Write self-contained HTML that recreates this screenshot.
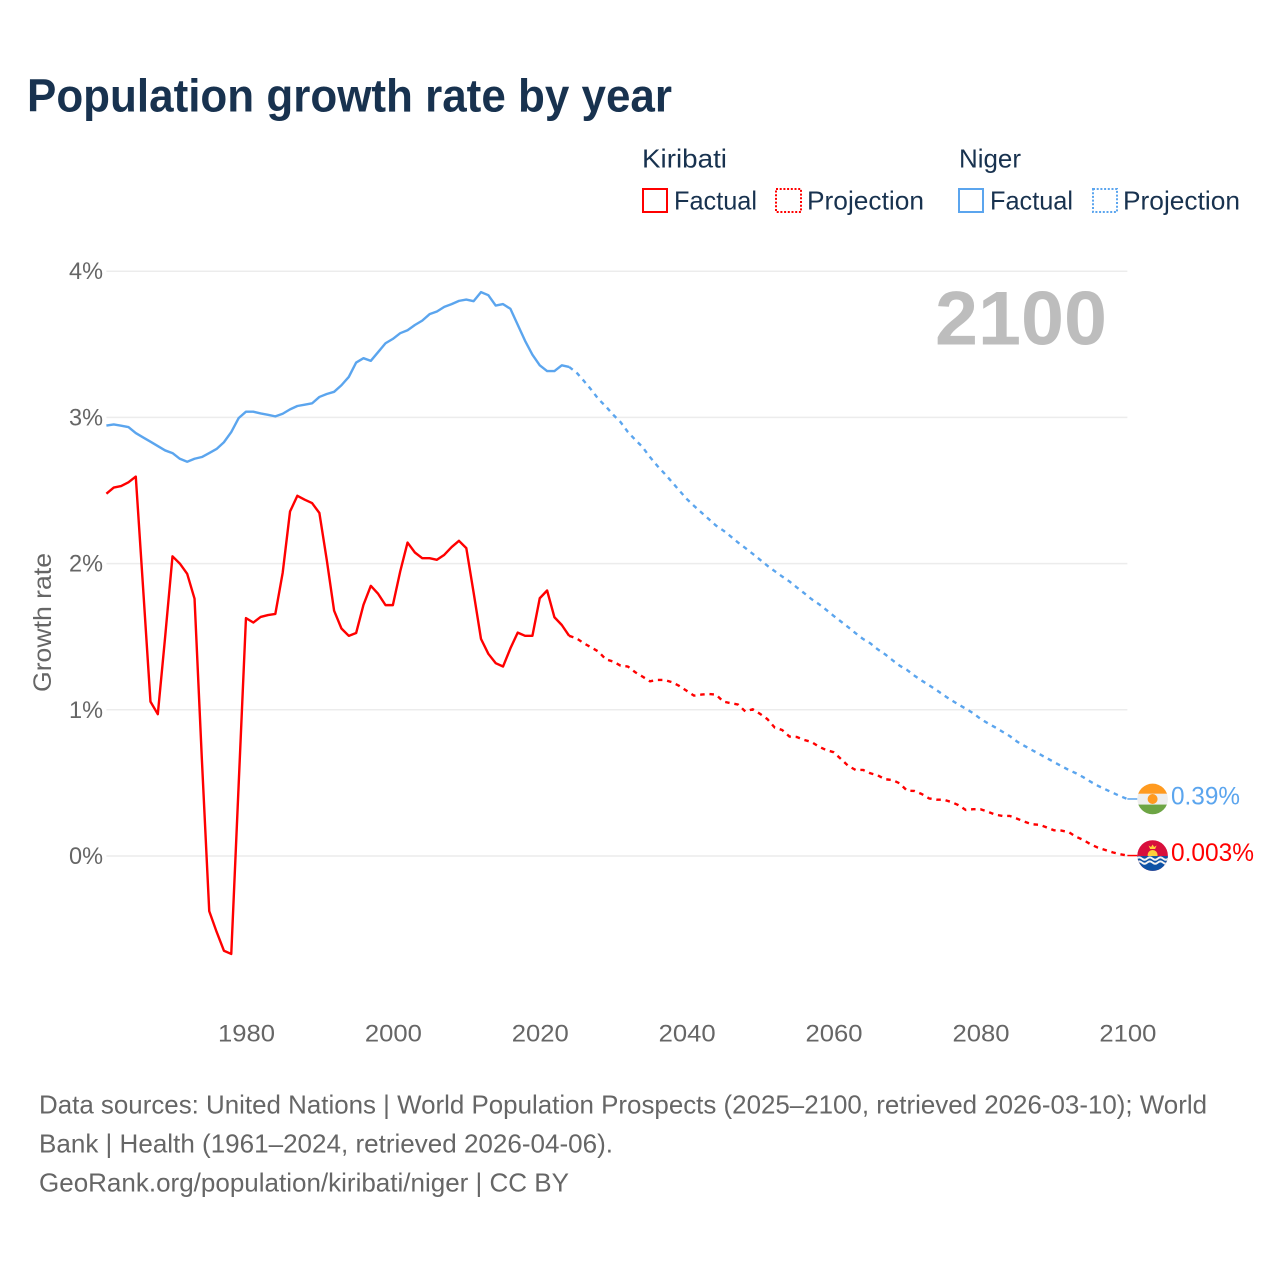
<!DOCTYPE html>
<html lang="en">
<head>
<meta charset="utf-8">
<title>Population growth rate by year</title>
<style>
html,body{margin:0;padding:0;background:#fff;width:1280px;height:1280px;overflow:hidden}
svg{display:block}
text{font-family:"Liberation Sans",sans-serif}
</style>
</head>
<body>
<svg id="chart" xmlns="http://www.w3.org/2000/svg" width="1280" height="1280" viewBox="0 0 1280 1280">
  <rect width="1280" height="1280" fill="#fff"/>
  <text x="27" y="111.5" font-size="46" font-weight="700" fill="#18324f" textLength="645" lengthAdjust="spacingAndGlyphs">Population growth rate by year</text>

  <g font-size="26" fill="#18324f">
    <text x="642" y="167.5" textLength="85" lengthAdjust="spacingAndGlyphs">Kiribati</text>
    <text x="959" y="167.5" textLength="62" lengthAdjust="spacingAndGlyphs">Niger</text>
    <rect x="643" y="189" width="24" height="23" fill="none" stroke="#ff0000" stroke-width="2"/>
    <text x="674" y="209.5" textLength="83" lengthAdjust="spacingAndGlyphs">Factual</text>
    <rect x="776" y="189" width="25" height="23" fill="none" stroke="#ff0000" stroke-width="2" stroke-dasharray="2 1.7"/>
    <text x="807" y="209.5" textLength="117" lengthAdjust="spacingAndGlyphs">Projection</text>
    <rect x="959" y="189" width="24" height="23" fill="none" stroke="#5ba5ee" stroke-width="2"/>
    <text x="990" y="209.5" textLength="83" lengthAdjust="spacingAndGlyphs">Factual</text>
    <rect x="1093" y="189" width="24" height="23" fill="none" stroke="#5ba5ee" stroke-width="2" stroke-dasharray="2 1.7"/>
    <text x="1123" y="209.5" textLength="117" lengthAdjust="spacingAndGlyphs">Projection</text>
  </g>

  <g id="grid"></g>
  <g id="y-ticks" font-size="24" fill="#666"></g>
  <g id="x-ticks" font-size="24" fill="#666"></g>
  <text transform="translate(51,692) rotate(-90)" font-size="25" fill="#666" textLength="139" lengthAdjust="spacingAndGlyphs">Growth rate</text>
  <text x="935" y="344.5" font-size="76" font-weight="700" fill="#bdbdbd" textLength="172" lengthAdjust="spacingAndGlyphs">2100</text>

  <g id="series"></g>

  <g id="flag-niger">
    <clipPath id="clip-niger"><circle cx="0" cy="0" r="15.3"/></clipPath>
    <g clip-path="url(#clip-niger)">
      <rect x="-16" y="-16" width="32" height="32" fill="#eeeeee"/>
      <rect x="-16" y="-16" width="32" height="10.7" fill="#ff9a1f"/>
      <rect x="-16" y="5.6" width="32" height="11" fill="#6da544"/>
      <circle cx="0" cy="0" r="5" fill="#ff9a1f"/>
    </g>
  </g>
  <g id="flag-kiribati">
    <clipPath id="clip-kiribati"><circle cx="0" cy="0" r="15.3"/></clipPath>
    <g clip-path="url(#clip-kiribati)">
      <rect x="-16" y="-16" width="32" height="32" fill="#d80f3c"/>
      <circle cx="0" cy="-0.5" r="5" fill="#ffce3a"/>
      <polygon points="-4,-10 -1.5,-8.5 0,-11 1.5,-8.5 4,-10 2.5,-6.5 -2.5,-6.5" fill="#ffce3a"/>
      <rect x="-16" y="0.5" width="32" height="16" fill="#0d52a5"/>
      <path d="M-16,3 q2.6,-2.4 5.3,0 t5.3,0 t5.3,0 t5.3,0 t5.3,0 t5.3,0" fill="none" stroke="#f2f2f2" stroke-width="2"/>
      <path d="M-16,7 q2.6,-2.4 5.3,0 t5.3,0 t5.3,0 t5.3,0 t5.3,0 t5.3,0" fill="none" stroke="#f2f2f2" stroke-width="2"/>
    </g>
  </g>

  <g id="end-labels" font-size="25"></g>

  <g font-size="26" fill="#666">
    <text x="39" y="1113.5" textLength="1168" lengthAdjust="spacingAndGlyphs">Data sources: United Nations | World Population Prospects (2025–2100, retrieved 2026-03-10); World</text>
    <text x="39" y="1152.5" textLength="574" lengthAdjust="spacingAndGlyphs">Bank | Health (1961–2024, retrieved 2026-04-06).</text>
    <text x="39" y="1191.5" textLength="530" lengthAdjust="spacingAndGlyphs">GeoRank.org/population/kiribati/niger | CC BY</text>
  </g>
</svg>

<script>
const factualStartYear = 1961;
const projectionStartYear = 2024;
const yTickValues = [0, 1, 2, 3, 4];
const xTickYears = [1980, 2000, 2020, 2040, 2060, 2080, 2100];

const kiribatiFactual = [
  2.478, 2.52, 2.53, 2.556, 2.595, 1.83, 1.056, 0.97, 1.5, 2.05,
  2.0, 1.93, 1.76, 0.66, -0.377, -0.518, -0.648, -0.67, 0.48, 1.627,
  1.597, 1.635, 1.648, 1.656, 1.937, 2.356, 2.464, 2.437, 2.414, 2.346,
  2.026, 1.678, 1.556, 1.506, 1.525, 1.718, 1.848, 1.793, 1.716, 1.716,
  1.946, 2.144, 2.076, 2.037, 2.037, 2.026, 2.06, 2.113, 2.156, 2.106,
  1.8, 1.485, 1.383, 1.319, 1.296, 1.42, 1.528, 1.506, 1.506, 1.763,
  1.816, 1.633, 1.58, 1.506
];
const kiribatiProjection = [
  1.506, 1.489, 1.455, 1.427, 1.398, 1.345, 1.33, 1.302, 1.296, 1.257,
  1.227, 1.195, 1.204, 1.204, 1.189, 1.163, 1.13, 1.097, 1.104, 1.108,
  1.104, 1.056, 1.045, 1.036, 0.988, 1.004, 0.972, 0.936, 0.878, 0.862,
  0.817, 0.814, 0.794, 0.78, 0.748, 0.725, 0.71, 0.664, 0.616, 0.589,
  0.589, 0.566, 0.552, 0.525, 0.52, 0.497, 0.447, 0.445, 0.424, 0.394,
  0.385, 0.385, 0.37, 0.348, 0.315, 0.32, 0.32, 0.303, 0.283, 0.274,
  0.274, 0.255, 0.235, 0.217, 0.214, 0.196, 0.176, 0.174, 0.164, 0.132,
  0.11, 0.08, 0.057, 0.041, 0.025, 0.012, 0.003
];
const nigerFactual = [
  2.944, 2.952, 2.943, 2.934, 2.893, 2.863, 2.834, 2.804, 2.774, 2.756,
  2.717, 2.697, 2.717, 2.729, 2.756, 2.784, 2.83, 2.9, 2.995, 3.039,
  3.039, 3.027, 3.018, 3.007, 3.025, 3.055, 3.078, 3.087, 3.096, 3.14,
  3.16, 3.175, 3.22, 3.277, 3.375, 3.405, 3.387, 3.447, 3.507, 3.537,
  3.576, 3.596, 3.632, 3.662, 3.706, 3.724, 3.756, 3.775, 3.797, 3.806,
  3.795, 3.857, 3.836, 3.765, 3.775, 3.743, 3.634, 3.524, 3.429, 3.356,
  3.317, 3.317, 3.356, 3.345
];
const nigerProjection = [
  3.345, 3.307, 3.25, 3.19, 3.125, 3.075, 3.018, 2.968, 2.9, 2.847,
  2.797, 2.729, 2.669, 2.615, 2.558, 2.5, 2.443, 2.395, 2.35, 2.305,
  2.26, 2.226, 2.186, 2.144, 2.106, 2.067, 2.026, 1.985, 1.948, 1.912,
  1.878, 1.837, 1.798, 1.757, 1.723, 1.684, 1.643, 1.604, 1.565, 1.524,
  1.485, 1.455, 1.414, 1.38, 1.34, 1.302, 1.273, 1.234, 1.2, 1.168,
  1.136, 1.1, 1.067, 1.036, 1.008, 0.977, 0.938, 0.908, 0.88, 0.85,
  0.82, 0.782, 0.753, 0.725, 0.698, 0.67, 0.643, 0.616, 0.589, 0.566,
  0.539, 0.508, 0.48, 0.456, 0.433, 0.41, 0.39
];
const endLabelTexts = ["0.39%", "0.003%"];

const SVGNS = "http://www.w3.org/2000/svg";
function xScale(year) { return 106.4 + (year - 1961) * 7.345; }
function yScale(value) { return 856 - value * 146.2; }
function make(tag, parent) {
  const el = document.createElementNS(SVGNS, tag);
  parent.appendChild(el);
  return el;
}
function linePath(values, startYear) {
  const pts = values.map(function (v, i) {
    return xScale(startYear + i).toFixed(2) + "," + yScale(v).toFixed(2);
  });
  return "M" + pts.join("L");
}

const gridGroup = document.getElementById("grid");
const yTickGroup = document.getElementById("y-ticks");
yTickValues.forEach(function (v) {
  const line = make("line", gridGroup);
  
  
  line.setAttribute("x1", xScale(1961));
  line.setAttribute("x2", xScale(2100));
  line.setAttribute("y1", yScale(v));
  line.setAttribute("y2", yScale(v));
  line.setAttribute("stroke", "#ececec");
  line.setAttribute("stroke-width", "1.5");
  const label = make("text", yTickGroup);
  
  
  label.setAttribute("x", 69);
  label.setAttribute("y", yScale(v) + 8);
  label.setAttribute("textLength", 34);
  label.setAttribute("lengthAdjust", "spacingAndGlyphs");
  label.textContent = v + "%";
});

const xTickGroup = document.getElementById("x-ticks");
xTickYears.forEach(function (year) {
  const label = make("text", xTickGroup);
  
  
  label.setAttribute("x", xScale(year) + 0.5 - 28.5);
  label.setAttribute("y", 1041.5);
  label.setAttribute("textLength", 57);
  label.setAttribute("lengthAdjust", "spacingAndGlyphs");
  label.textContent = year;
});

const seriesGroup = document.getElementById("series");
function drawSeries(values, startYear, color, dashed, name) {
  const path = make("path", seriesGroup);
  
  
  path.setAttribute("d", linePath(values, startYear));
  path.setAttribute("fill", "none");
  path.setAttribute("stroke", color);
  path.setAttribute("stroke-width", "2.4");
  path.setAttribute("stroke-linejoin", "round");
  if (dashed) path.setAttribute("stroke-dasharray", "4.5 4.8");
}
const RED = "#ff0000";
const BLUE = "#5ba5ee";
drawSeries(nigerFactual, factualStartYear, BLUE, false, "niger-factual-line");
drawSeries(nigerProjection, projectionStartYear, BLUE, true, "niger-projection-line");
drawSeries(kiribatiFactual, factualStartYear, RED, false, "kiribati-factual-line");
drawSeries(kiribatiProjection, projectionStartYear, RED, true, "kiribati-projection-line");

const endGroup = document.getElementById("end-labels");
function drawEnd(values, color, flagId, labelText, labelWidth, name) {
  const lastValue = values[values.length - 1];
  const y = yScale(lastValue);
  const connector = make("line", seriesGroup);
  
  
  connector.setAttribute("x1", xScale(2100));
  connector.setAttribute("x2", xScale(2100) + 10);
  connector.setAttribute("y1", y);
  connector.setAttribute("y2", y);
  connector.setAttribute("stroke", color);
  connector.setAttribute("stroke-width", "1.5");
  document.getElementById(flagId).setAttribute("transform", "translate(1152.6," + y.toFixed(2) + ")");
  const label = make("text", endGroup);
  
  
  label.setAttribute("x", 1171);
  label.setAttribute("y", y + 5.5);
  label.setAttribute("fill", color);
  label.setAttribute("textLength", labelWidth);
  label.setAttribute("lengthAdjust", "spacingAndGlyphs");
  label.textContent = labelText;
}
drawEnd(nigerProjection, BLUE, "flag-niger", endLabelTexts[0], 69, "niger");
drawEnd(kiribatiProjection, RED, "flag-kiribati", endLabelTexts[1], 83, "kiribati");
</script>
</body>
</html>
